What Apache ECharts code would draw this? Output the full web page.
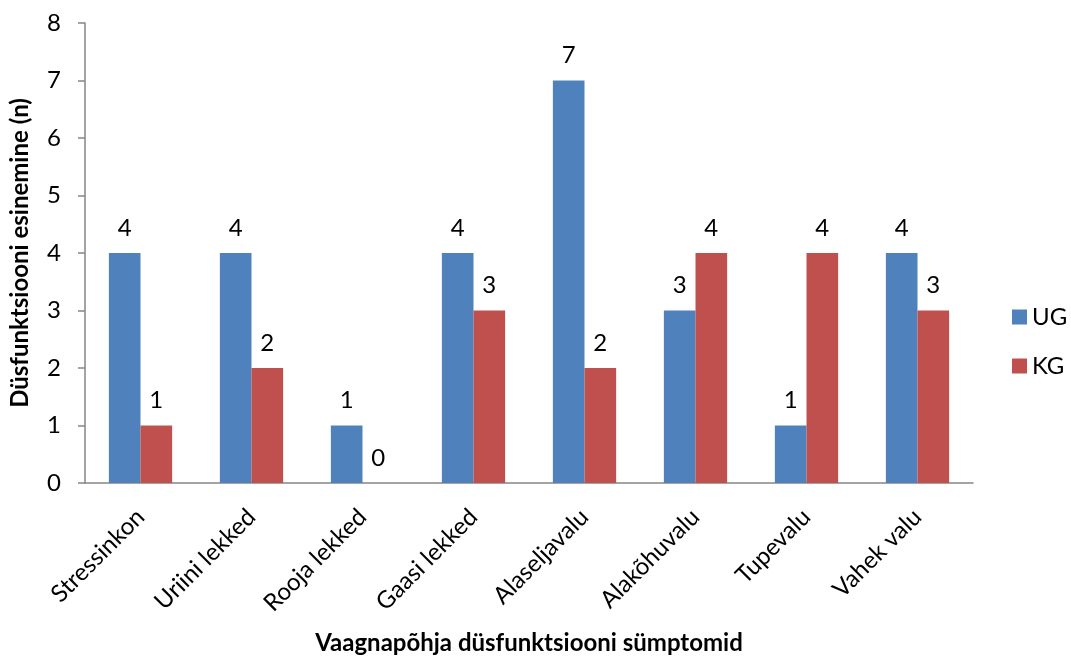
<!DOCTYPE html>
<html>
<head>
<meta charset="utf-8">
<script src="https://cdn.jsdelivr.net/npm/echarts@6/dist/echarts.min.js"></script>
<style>
  html, body { margin: 0; padding: 0; background: #fff; }
  #chart { width: 1071px; height: 659px; }
</style>
</head>
<body>
<div id="chart"></div>
<script>
// Symptom categories and counts per group
const categories = ['Stressinkon', 'Uriini lekked', 'Rooja lekked', 'Gaasi lekked', 'Alaseljavalu', 'Alakõhuvalu', 'Tupevalu', 'Vahek valu'];
const ugValues = [4, 4, 1, 4, 7, 3, 1, 4];
const kgValues = [1, 2, 0, 3, 2, 4, 4, 3];
const yTicks = [0, 1, 2, 3, 4, 5, 6, 7, 8];

const FONT = 'Lato, "Open Sans", sans-serif';
const FS = 24;
const axisGray = '#868686';

const chart = echarts.init(document.getElementById('chart'), null, { renderer: 'canvas' });

const labelStyle = {
  show: true,
  position: 'top',
  distance: 13,
  color: '#000',
  fontFamily: FONT,
  fontSize: FS
};

chart.setOption({
  animation: false,
  grid: { left: 85, right: 98, top: 23, bottom: 176, outerBoundsMode: 'none', containLabel: false },
  legend: {
    orient: 'vertical',
    left: 1012,
    top: 305,
    itemWidth: 15,
    itemHeight: 15,
    itemGap: 25,
    padding: 0,
    icon: 'rect',
    textStyle: { fontFamily: FONT, fontSize: FS, color: '#000' },
    data: ['UG', 'KG']
  },
  xAxis: {
    type: 'category',
    data: categories,
    name: 'Vaagnapõhja düsfunktsiooni sümptomid',
    nameLocation: 'middle',
    nameGap: 148,
    nameTextStyle: { fontFamily: FONT, fontSize: FS, fontWeight: 'bold', color: '#000' },
    axisLine: { lineStyle: { color: axisGray, width: 1.5 } },
    axisTick: { show: false },
    axisLabel: {
      rotate: 45,
      margin: 30,
      interval: 0,
      fontFamily: FONT,
      fontSize: FS,
      color: '#000'
    }
  },
  yAxis: {
    type: 'value',
    min: yTicks[0],
    max: yTicks[yTicks.length - 1],
    interval: 1,
    name: 'Düsfunktsiooni esinemine (n)',
    nameLocation: 'middle',
    nameGap: 53,
    nameTextStyle: { fontFamily: FONT, fontSize: FS, fontWeight: 'bold', color: '#000' },
    axisLine: { show: true, lineStyle: { color: axisGray, width: 1.5 } },
    axisTick: { show: true, length: 7, lineStyle: { color: axisGray, width: 1.5 } },
    splitLine: { show: false },
    axisLabel: { margin: 24, fontFamily: FONT, fontSize: FS, color: '#000' }
  },
  series: [
    {
      name: 'UG',
      type: 'bar',
      data: ugValues,
      barGap: '0%',
      barCategoryGap: '43%',
      itemStyle: { color: '#4F81BD' },
      label: labelStyle
    },
    {
      name: 'KG',
      type: 'bar',
      data: kgValues,
      barGap: '0%',
      barCategoryGap: '43%',
      itemStyle: { color: '#C0504D' },
      label: labelStyle
    }
  ]
});
</script>
</body>
</html>
